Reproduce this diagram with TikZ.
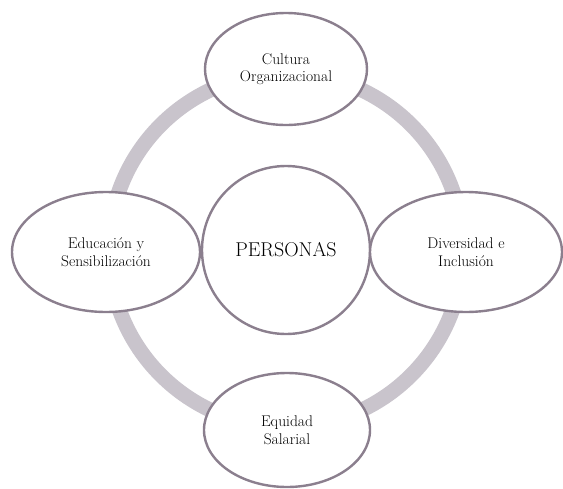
\documentclass[tikz,border=0pt]{standalone}
\usetikzlibrary{shapes.geometric}
\definecolor{rim}{HTML}{8B7F8E}
\definecolor{band}{HTML}{C9C4CC}
\begin{document}
\begin{tikzpicture}[x=1pt,y=-1pt,
  bubble/.style={ellipse, draw=rim, line width=2.4pt, fill=white, inner sep=0pt,
    align=center, font=\fontsize{15.5}{17.5}\selectfont},
  hub/.style={circle, draw=rim, line width=2.4pt, fill=white, inner sep=0pt,
    minimum size=168pt, font=\fontsize{20}{23}\selectfont}]
\useasboundingbox (0,0) rectangle (563,488);
% connecting ring behind the satellites
\coordinate (ringc) at (286,250);
\draw[band, line width=15pt] (ringc) circle[radius=177pt];
% central hub
\node[hub] (hub) at (286,250) {PERSONAS};
% satellites
\node[bubble, minimum width=162pt, minimum height=112pt] (top) at (286,69) {Cultura\\Organizacional};
\node[bubble, minimum width=166pt, minimum height=114pt] (bottom) at (287,430) {Equidad\\Salarial};
\node[bubble, minimum width=188pt, minimum height=120pt] (left) at (106,252) {Educación y\\Sensibilización};
\node[bubble, minimum width=192pt, minimum height=120pt] (right) at (466,252) {Diversidad e\\Inclusión};
\end{tikzpicture}
\end{document}
